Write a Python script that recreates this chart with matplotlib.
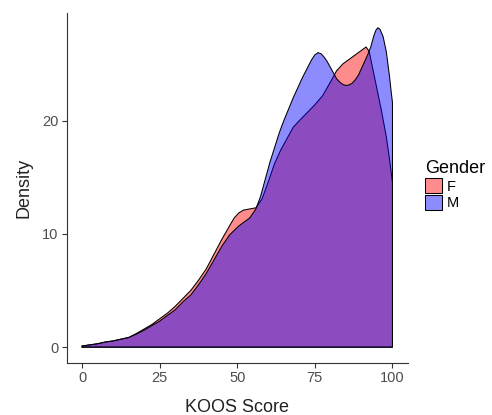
import matplotlib
matplotlib.use("Agg")
import matplotlib.pyplot as plt
from matplotlib.patches import Polygon

plt.rcParams['font.family'] = ['Liberation Sans', 'DejaVu Sans']

# KOOS score grid and density readings (scaled as on the chart)
koos_f = [0, 2.5, 5, 7.5, 10, 12.5, 15, 17.5, 20, 22.5, 25, 27.5, 30, 32.5,
          35, 37.5, 40, 42.5, 45, 47.5, 49, 50.5, 52, 54, 56, 58, 60, 62,
          64, 66, 68, 70, 72.5, 75, 77.5, 80, 82, 84, 86, 88, 90, 91.5, 92.5,
          93.7, 95, 96.5, 98, 99, 100]
dens_f = [0.1, 0.2, 0.3, 0.45, 0.55, 0.7, 0.85, 1.2, 1.6, 2.0, 2.5, 3.0, 3.6,
          4.3, 5.0, 5.9, 6.9, 8.2, 9.5, 10.7, 11.4, 11.85, 12.1, 12.2, 12.3,
          13.1, 14.6, 16.2, 17.4, 18.4, 19.4, 20.0, 20.7, 21.4, 22.2, 23.4,
          24.4, 25.0, 25.4, 25.8, 26.2, 26.5, 26.1, 24.5, 22.8, 20.8, 18.6,
          16.7, 14.5]

koos_m = [0, 2.5, 5, 7.5, 10, 12.5, 15, 17.5, 20, 22.5, 25, 27.5, 30, 32.5,
          35, 37.5, 40, 42.5, 45, 47.5, 49, 50.5, 52, 54, 56, 57.5, 59, 60.5,
          62, 63.5, 65, 66.5, 68, 69.5, 71, 72.5, 74, 75, 76, 77, 78, 79, 80,
          81, 82, 83, 84, 85, 86, 87, 88, 89, 90, 91, 92, 93, 94, 94.7, 95.3,
          96, 97, 98, 99, 99.6, 100]
dens_m = [0.1, 0.2, 0.3, 0.45, 0.55, 0.7, 0.85, 1.15, 1.5, 1.9, 2.3, 2.8, 3.3,
          4.0, 4.6, 5.5, 6.5, 7.7, 8.9, 9.9, 10.3, 10.7, 11.0, 11.4, 12.2,
          13.3, 14.8, 16.3, 17.6, 18.9, 20.0, 21.0, 22.0, 22.9, 23.8, 24.6,
          25.4, 25.8, 26.0, 25.9, 25.6, 25.2, 24.7, 24.2, 23.7, 23.4, 23.2,
          23.1, 23.15, 23.3, 23.6, 24.0, 24.6, 25.2, 25.8, 26.5, 27.5, 28.0,
          28.2, 28.05, 27.4, 26.1, 24.0, 22.5, 21.6]

genders = ['F', 'M']
fills = ['red', 'blue']
x_ticks = [0, 25, 50, 75, 100]
y_ticks = [0, 10, 20]

fig = plt.figure(figsize=(4.92, 4.15), dpi=100)
ax = fig.add_axes([66.5 / 492, 1 - 363 / 415, (408 - 66.5) / 492, 350 / 415])

handles = []
for g, xs, ys, col in zip(genders, [koos_f, koos_m], [dens_f, dens_m], fills):
    pts = list(zip(xs, ys)) + [(xs[-1], 0), (xs[0], 0)]
    rgba = matplotlib.colors.to_rgba(col, 0.45)
    poly = Polygon(pts, closed=True, facecolor=rgba, edgecolor='black',
                   linewidth=0.75, joinstyle='round', label=g)
    ax.add_patch(poly)
    handles.append(poly)

ax.set_xlim(-5, 105)
ax.set_ylim(-1.4, 29.5)
ax.set_xticks(x_ticks)
ax.set_yticks(y_ticks)

for side in ['top', 'right']:
    ax.spines[side].set_visible(False)
for side in ['left', 'bottom']:
    ax.spines[side].set_color('#333333')
    ax.spines[side].set_linewidth(0.8)
ax.tick_params(length=3.5, width=0.8, color='#333333', labelcolor='#4d4d4d',
               labelsize=10.5, pad=2.5)

ax.set_xlabel('KOOS Score', fontsize=13, color='#222222', labelpad=9.5)
ax.set_ylabel('Density', fontsize=13, color='#222222', labelpad=7)

leg = fig.legend(handles=handles, labels=genders, title='Gender',
                 loc='upper left', bbox_to_anchor=(425 / 492, 1 - 160 / 415),
                 frameon=False, fontsize=10.5, title_fontsize=13,
                 handlelength=1.15, handleheight=1.15, labelspacing=0.1,
                 handletextpad=0.35, borderpad=0, borderaxespad=0,
                 alignment='left')

fig.savefig('out.png', dpi=100)
